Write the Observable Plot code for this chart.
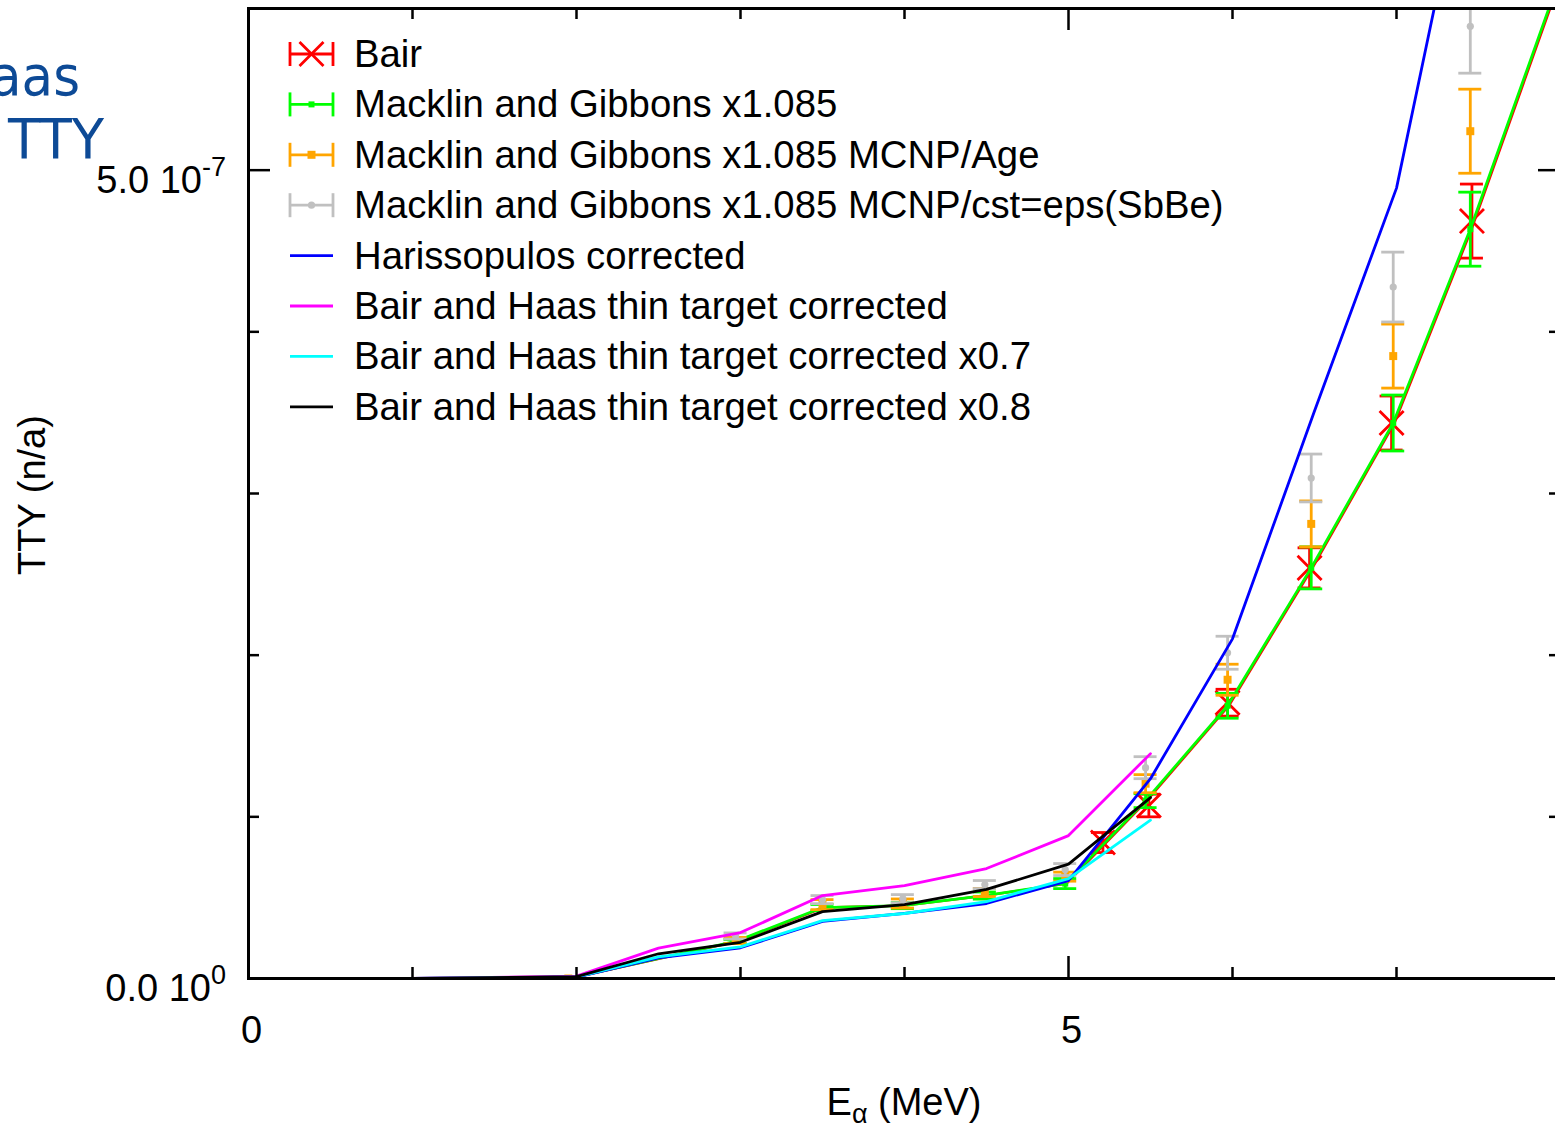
<!DOCTYPE html>
<html><head><meta charset="utf-8">
<script src="https://cdn.jsdelivr.net/npm/d3@7"></script>
<script src="https://cdn.jsdelivr.net/npm/@observablehq/plot@0.6"></script>
<style>
html,body{margin:0;padding:0;background:#fff;overflow:hidden;}
#chart{position:relative;width:1555px;height:1129px;overflow:hidden;}
#chart svg{overflow:hidden;}
</style></head><body><div id="chart"></div>
<script>
// ---- data (TTY values in units of 1e-9) ----
const bhX    = [1, 2, 2.5, 3, 3.5, 4, 4.5, 5, 5.5];
const bhCorr = [0, 1.5, 18.8, 28.4, 51.3, 57.5, 68.0, 88.4, 139.1];
const bh07   = [0, 1.0, 13.4, 19.6, 35.8, 40.2, 47.6, 61.8, 97.9];
const bh08   = [0, 1.2, 15.3, 22.4, 41.4, 45.7, 55.1, 70.7, 111.9];

const harX = [1, 2, 2.5, 3, 3.5, 4, 4.5, 5, 5.5, 6, 6.5, 7, 7.5];
const harY = [0, 0.8, 12.8, 19.0, 35.3, 40.3, 46.4, 60.6, 123.6, 210.1, 351.0, 488.9, 730.5];

const mgX      = [1.95, 2.97, 3.5, 3.99, 4.49, 4.98, 5.47, 5.97, 6.48, 6.98, 7.45];
const mgY      = [0, 22.9, 43.9, 45.1, 51.3, 58.7, 110.0, 168.7, 254.0, 343.6, 463.5];
const mgErr    = [0.6, 1.2, 1.9, 1.9, 2.2, 3.1, 4.3, 7.7, 13.0, 17.3, 22.9];
const mgTailX  = [7.95];
const mgTailY  = [606];

const ageY   = [0, 23.5, 45.7, 46.4, 53.2, 63.0, 120.5, 184.8, 281.2, 385.0, 524.1];
const ageErr = [0.6, 1.9, 3.1, 2.8, 2.5, 2.8, 5.6, 9.6, 14.2, 19.8, 26.0];
const cstY   = [0, 26.3, 48.8, 49.4, 58.1, 67.4, 130.4, 201.5, 309.6, 427.7, 589.0];
const cstErr = [0.6, 1.9, 2.5, 2.5, 2.5, 3.7, 6.8, 10.2, 14.8, 21.6, 29.0];

const bairX   = [5.21, 5.49, 5.97, 6.47, 6.97, 7.46];
const bairY   = [84.1, 107.0, 170.6, 254.0, 343.6, 468.5];
const bairErr = [6.2, 7.0, 8.3, 12.4, 16.7, 22.9];

const xMinor = [1, 2, 3, 4, 6, 7];
const xMajor = [0, 5];
const yMinor = [100, 200, 300, 400];
const yMajor = [0, 500];
const xTickLabels = [{v: 0, t: "0"}, {v: 5, t: "5"}];
const yTickLabels = [{v: 0, m: "0.0 10", e: "0"}, {v: 500, m: "5.0 10", e: "-7"}];

const legendItems = [
  {label: "Bair", color: "#ff0000", kind: "times"},
  {label: "Macklin and Gibbons x1.085", color: "#00ff00", kind: "square", size: 6},
  {label: "Macklin and Gibbons x1.085 MCNP/Age", color: "#ffa500", kind: "square", size: 8},
  {label: "Macklin and Gibbons x1.085 MCNP/cst=eps(SbBe)", color: "#c0c0c0", kind: "circle", size: 3.6},
  {label: "Harissopulos corrected", color: "#0000ff", kind: "line"},
  {label: "Bair and Haas thin target corrected", color: "#ff00ff", kind: "line"},
  {label: "Bair and Haas thin target corrected x0.7", color: "#00ffff", kind: "line"},
  {label: "Bair and Haas thin target corrected x0.8", color: "#000000", kind: "line"}
];

// ---- tables ----
const W = 1555, H = 1129;
const mT = 8, mB = 151, mL = 248, mR = -5;
const plotH = H - mT - mB, plotW = W - mR - mL;
const bhRows  = bhX.map((x, i) => ({x, a: bhCorr[i], b: bh07[i], c: bh08[i]}));
const harRows = harX.map((x, i) => ({x, y: harY[i]}));
const mk = (xs, ys, es) => xs.map((x, i) => ({x, y: ys[i], lo: ys[i] - es[i], hi: ys[i] + es[i]}));
const mgRows   = mk(mgX, mgY, mgErr);
const mgLine   = mgRows.map(d => ({x: d.x, y: d.y})).concat(mgTailX.map((x, i) => ({x, y: mgTailY[i]})));
const ageRows  = mk(mgX, ageY, ageErr);
const cstRows  = mk(mgX, cstY, cstErr);
const bairRows = mk(bairX, bairY, bairErr);

const SW = 2.8;
function errMarks(rows, color, symbol, r, fill) {
  const o = {stroke: color, strokeWidth: SW, clip: true};
  return [
    Plot.ruleX(rows, {x: "x", y1: "lo", y2: "hi", ...o}),
    Plot.ruleY(rows, {y: "lo", x1: "x", x2: "x", insetLeft: -11.5, insetRight: -11.5, ...o}),
    Plot.ruleY(rows, {y: "hi", x1: "x", x2: "x", insetLeft: -11.5, insetRight: -11.5, ...o}),
    Plot.dot(rows, {x: "x", y: "y", symbol, r, fill: fill ? color : "none", stroke: fill ? "none" : color, strokeWidth: SW, clip: true})
  ];
}
const lineOpt = (c, w = 2.8) => ({stroke: c, strokeWidth: w, clip: true});

const plot = Plot.plot({
  width: W, height: H,
  marginTop: mT, marginBottom: mB, marginLeft: mL, marginRight: mR,
  x: {domain: [0, 8], axis: null},
  y: {domain: [0, 600], axis: null},
  style: {background: "white", fontFamily: "'Liberation Sans', Arial, sans-serif", overflow: "hidden"},
  marks: [
    // Bair
    Plot.line(mgLine, {x: "x", y: "y", dx: 1.3, ...lineOpt("#ff0000", 2.4)}),
    ...errMarks(bairRows, "#ff0000", "times", 11, false),
    // Macklin and Gibbons
    Plot.line(mgLine, {x: "x", y: "y", ...lineOpt("#00ff00", 2.8)}),
    ...errMarks(mgRows, "#00ff00", "square", 3.4, true),
    ...errMarks(ageRows, "#ffa500", "square", 4.5, true),
    ...errMarks(cstRows, "#c0c0c0", "circle", 3.6, true),
    // lines
    Plot.line(harRows, {x: "x", y: "y", ...lineOpt("#0000ff")}),
    Plot.line(bhRows, {x: "x", y: "a", ...lineOpt("#ff00ff")}),
    Plot.line(bhRows, {x: "x", y: "b", ...lineOpt("#00ffff")}),
    Plot.line(bhRows, {x: "x", y: "c", ...lineOpt("#000000")}),
    // frame + ticks
    Plot.frame({stroke: "black", strokeWidth: 3}),
    Plot.ruleX(xMinor, {x: d => d, insetTop: plotH - 11, stroke: "black", strokeWidth: 2.5}),
    Plot.ruleX(xMinor, {x: d => d, insetBottom: plotH - 11, stroke: "black", strokeWidth: 2.5}),
    Plot.ruleX(xMajor, {x: d => d, insetTop: plotH - 22, stroke: "black", strokeWidth: 2.5}),
    Plot.ruleX(xMajor, {x: d => d, insetBottom: plotH - 22, stroke: "black", strokeWidth: 2.5}),
    Plot.ruleY(yMinor, {y: d => d, insetRight: plotW - 11, stroke: "black", strokeWidth: 2.5}),
    Plot.ruleY(yMinor, {y: d => d, insetLeft: plotW - 11, stroke: "black", strokeWidth: 2.5}),
    Plot.ruleY(yMajor, {y: d => d, insetRight: plotW - 22, stroke: "black", strokeWidth: 2.5}),
    Plot.ruleY(yMajor, {y: d => d, insetLeft: plotW - 22, stroke: "black", strokeWidth: 2.5}),
    Plot.text(xTickLabels, {x: "v", y: () => 0, text: "t", dy: 52, dx: 3, fontSize: 38, fill: "black"})
  ]
});
document.getElementById("chart").appendChild(plot);

// ---- texts and legend ----
const svg = d3.select(plot);
const sx = plot.scale("x"), sy = plot.scale("y");
const FONT = "'Liberation Sans', Arial, sans-serif";

// y tick labels with exponent
yTickLabels.forEach(d => {
  const t = svg.append("text").attr("x", 226).attr("y", sy.apply(d.v) + 23)
    .attr("text-anchor", "end").attr("font-family", FONT).attr("font-size", 38).attr("fill", "black");
  t.append("tspan").text(d.m);
  t.append("tspan").attr("dy", -17).attr("font-size", 27).text(d.e);
});

// x axis label
const xl = svg.append("text").attr("x", sx.apply(4)).attr("y", 1115)
  .attr("text-anchor", "middle").attr("font-family", FONT).attr("font-size", 38).attr("fill", "black");
xl.append("tspan").text("E");
xl.append("tspan").attr("dy", 8).attr("font-size", 27).text("α");
xl.append("tspan").attr("dy", -8).text(" (MeV)");

// y axis label
svg.append("text").attr("transform", `translate(45,${sy.apply(300) + 2}) rotate(-90)`)
  .attr("text-anchor", "middle").attr("font-family", FONT).attr("font-size", 38).attr("fill", "black")
  .text("TTY (n/a)");

// slide text fragments (blue)
[{t: "aas", x: 80, y: 95, w: 90}, {t: "TTY", x: 104, y: 158, w: 96}].forEach(d => {
  svg.append("text").attr("x", d.x - d.w).attr("y", d.y).attr("text-anchor", "start")
    .attr("textLength", d.w).attr("lengthAdjust", "spacingAndGlyphs")
    .attr("font-family", "'DejaVu Sans', Verdana, sans-serif").attr("font-size", 55)
    .attr("fill", "#0d4a96").text(d.t);
});

// legend
const lg = svg.append("g");
legendItems.forEach((d, i) => {
  const y = 54 + i * 50.4;
  const g = lg.append("g").attr("stroke", d.color).attr("stroke-width", SW).attr("fill", "none");
  g.append("line").attr("x1", 290).attr("x2", 333).attr("y1", y).attr("y2", y);
  if (d.kind !== "line") {
    g.append("line").attr("x1", 290).attr("x2", 290).attr("y1", y - 12).attr("y2", y + 12);
    g.append("line").attr("x1", 333).attr("x2", 333).attr("y1", y - 12).attr("y2", y + 12);
    const cx = 311.5;
    if (d.kind === "times") {
      g.append("path").attr("d", `M${cx-12},${y-12}L${cx+12},${y+12}M${cx-12},${y+12}L${cx+12},${y-12}`);
    } else if (d.kind === "square") {
      g.append("rect").attr("x", cx - d.size / 2).attr("y", y - d.size / 2).attr("width", d.size).attr("height", d.size)
        .attr("fill", d.color).attr("stroke", "none");
    } else {
      g.append("circle").attr("cx", cx).attr("cy", y).attr("r", d.size).attr("fill", d.color).attr("stroke", "none");
    }
  }
  lg.append("text").attr("x", 354).attr("y", y + 13).attr("text-anchor", "start")
    .attr("font-family", FONT).attr("font-size", 38.3).attr("fill", "black").text(d.label);
});
</script></body></html>
